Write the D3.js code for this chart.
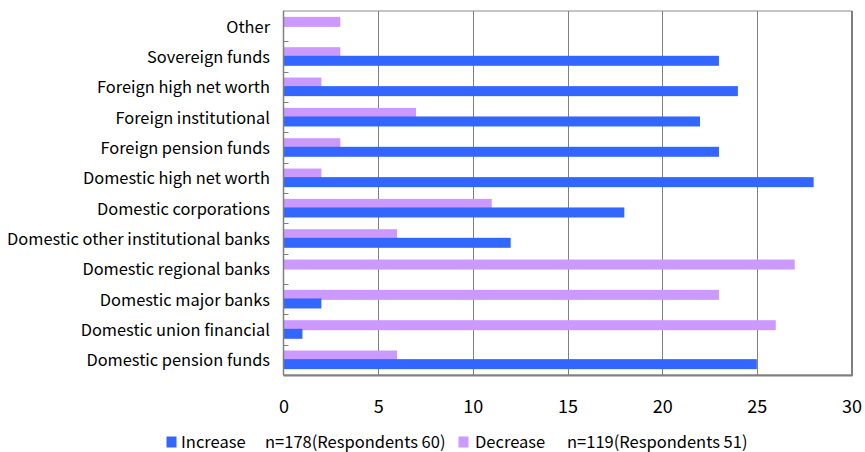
<!DOCTYPE html>
<html>
<head>
<meta charset="utf-8">
<script src="https://cdn.jsdelivr.net/npm/d3@7"></script>
<style>
  html, body { margin: 0; padding: 0; background: #fff; }
  svg { display: block; }
  text { font-family: "Noto Sans CJK JP", "Noto Sans", sans-serif; fill: #000; }
</style>
</head>
<body>
<svg id="chart" width="865" height="452"></svg>
<script>
// Investor categories, top to bottom
const categories = [
  "Other",
  "Sovereign funds",
  "Foreign high net worth",
  "Foreign institutional",
  "Foreign pension funds",
  "Domestic high net worth",
  "Domestic corporations",
  "Domestic other institutional banks",
  "Domestic regional banks",
  "Domestic major banks",
  "Domestic union financial",
  "Domestic pension funds"
];
const increaseValues = [0, 23, 24, 22, 23, 28, 18, 12, 0, 2, 1, 25];
const decreaseValues = [3, 3, 2, 7, 3, 2, 11, 6, 27, 23, 26, 6];
const xTicks = [0, 5, 10, 15, 20, 25, 30];
const seriesNames = ["Increase", "Decrease"];
const seriesNotes = ["n=178(Respondents 60)", "n=119(Respondents 51)"];

const colors = { Increase: "#3366ff", Decrease: "#cc99ff" };

const svg = d3.select("#chart");
const plotLeft = 283.5, plotRight = 851.5, plotTop = 11, plotBottom = 375;

const x = d3.scaleLinear().domain([0, 30]).range([plotLeft, plotRight]);
const y = d3.scaleBand().domain(categories).range([plotTop, plotBottom]).paddingInner(0).paddingOuter(0);
// within each band: Decrease above, Increase below, slightly overlapping
const sub = d3.scaleBand().domain(["Decrease", "Increase"]).range([0, y.bandwidth()]).paddingInner(-0.163).paddingOuter(0.682);

// plot frame
svg.append("rect")
  .attr("x", plotLeft).attr("y", plotTop)
  .attr("width", plotRight - plotLeft).attr("height", plotBottom - plotTop)
  .attr("fill", "#fff").attr("stroke", "#8c8c8c").attr("stroke-width", 1);

// vertical gridlines
svg.append("g")
  .selectAll("line")
  .data(xTicks.slice(1, -1))
  .join("line")
  .attr("x1", d => Math.round(x(d)) + 0.5).attr("x2", d => Math.round(x(d)) + 0.5)
  .attr("y1", plotTop).attr("y2", plotBottom)
  .attr("stroke", "#808080").attr("stroke-width", 1);

// bars
const rows = categories.map((c, i) => ({ c, Increase: increaseValues[i], Decrease: decreaseValues[i] }));
const barsG = svg.append("g");
["Decrease", "Increase"].forEach(s => {
  barsG.selectAll(null)
    .data(rows.filter(r => r[s] > 0))
    .join("rect")
    .attr("x", x(0))
    .attr("y", r => y(r.c) + sub(s))
    .attr("width", r => x(r[s]) - x(0))
    .attr("height", sub.bandwidth())
    .attr("fill", colors[s]);
});

// heavier bottom and right border
svg.append("line").attr("x1", plotLeft).attr("x2", plotRight + 1).attr("y1", plotBottom + 0.5).attr("y2", plotBottom + 0.5)
  .attr("stroke", "#808080").attr("stroke-width", 2);
svg.append("line").attr("x1", plotRight + 0.5).attr("x2", plotRight + 0.5).attr("y1", plotTop).attr("y2", plotBottom + 1)
  .attr("stroke", "#808080").attr("stroke-width", 2);

// category axis with inward ticks at band boundaries
const yAxisG = svg.append("g");
yAxisG.append("line").attr("x1", plotLeft).attr("x2", plotLeft).attr("y1", plotTop).attr("y2", plotBottom)
  .attr("stroke", "#808080").attr("stroke-width", 1.5);
yAxisG.selectAll(".tk")
  .data(categories.slice(1))
  .join("line")
  .attr("class", "tk")
  .attr("x1", plotLeft).attr("x2", plotLeft + 5)
  .attr("y1", d => Math.round(y(d)) + 0.5).attr("y2", d => Math.round(y(d)) + 0.5)
  .attr("stroke", "#808080");
yAxisG.selectAll(".lbl")
  .data(categories)
  .join("text")
  .attr("class", "lbl")
  .attr("x", 270)
  .attr("y", d => y(d) + y.bandwidth() / 2 + 2)
  .attr("text-anchor", "end")
  .attr("dominant-baseline", "middle")
  .attr("font-size", 16.4)
  .text(d => d);

// value axis labels
const xAxis = d3.axisBottom(x).tickValues(xTicks).tickSize(0).tickPadding(0);
const xAxisG = svg.append("g").attr("transform", `translate(0,${plotBottom})`).call(xAxis);
xAxisG.select(".domain").remove();
xAxisG.selectAll("text")
  .attr("y", 33)
  .attr("dy", 0)
  .attr("dominant-baseline", "middle")
  .attr("font-size", 18)
  .attr("font-family", "\"Noto Sans CJK JP\", \"Noto Sans\", sans-serif")
  .attr("fill", "#000");

// legend along the bottom edge
const legend = svg.append("g");
const legendItems = [
  { s: seriesNames[0], note: seriesNotes[0], sw: 166.5, tx: 181, nx: 265 },
  { s: seriesNames[1], note: seriesNotes[1], sw: 458.5, tx: 475, nx: 567 }
];
legendItems.forEach(it => {
  legend.append("rect").attr("x", it.sw).attr("y", 436.5).attr("width", 10).attr("height", 11).attr("fill", colors[it.s]);
  legend.append("text").attr("x", it.tx).attr("y", 447.5)
    .attr("font-size", 16.5).text(it.s);
  legend.append("text").attr("x", it.nx).attr("y", 447.5)
    .attr("font-size", 16.5).text(it.note);
});
</script>
</body>
</html>
